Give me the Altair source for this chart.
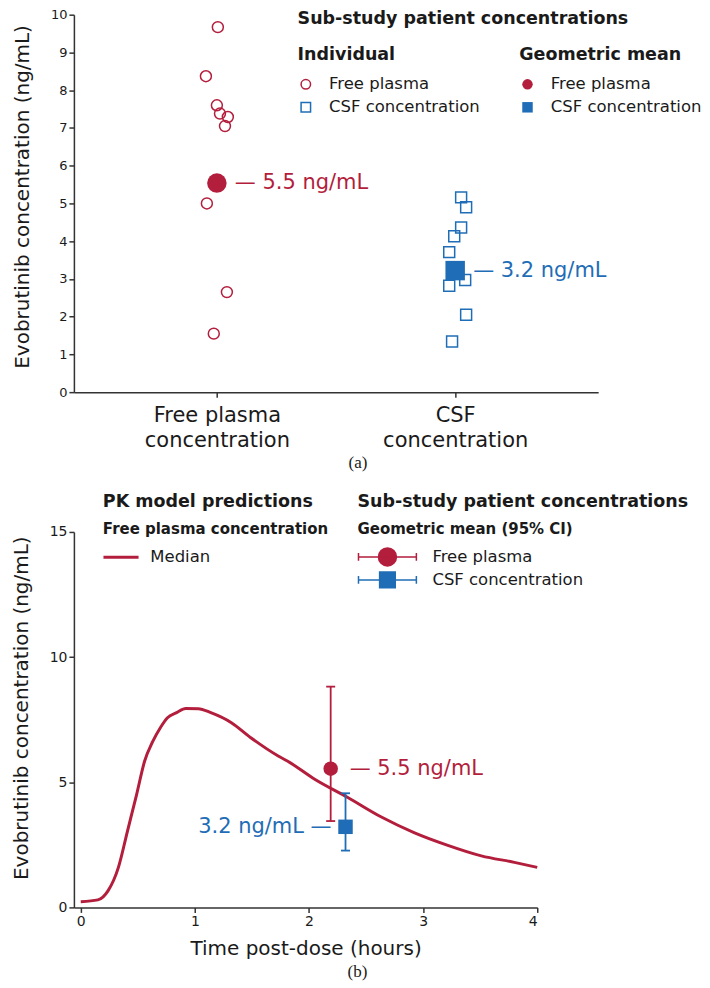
import json
import altair as alt
import pandas as pd

RED = "#B31E3C"
BLUE = "#1F6DB6"
FONT = "DejaVu Sans"
INK = "#1a1a1a"

# ---------------- data: panel (a) ----------------
groups = ["Free plasma", "CSF concentration"]
category_pos = [0.6, 1.6]
category_labels = [["Free plasma", "concentration"], ["CSF", "concentration"]]

plasma_conc = [9.67, 8.37, 7.60, 7.38, 7.29, 7.05, 5.00, 2.65, 1.55]
plasma_jitter = [0.004, -0.046, 0.0, 0.013, 0.046, 0.034, -0.042, 0.042, -0.013]
csf_conc = [5.16, 4.90, 4.36, 4.13, 3.71, 2.97, 2.82, 2.05, 1.34]
csf_jitter = [0.025, 0.046, 0.025, -0.004, -0.025, 0.042, -0.025, 0.046, -0.013]
geo_mean = [5.54, 3.22]

# ---------------- data: panel (b) ----------------
time_h = [0.0, 0.15, 0.24, 0.33, 0.41, 0.49, 0.56, 0.63, 0.70, 0.76, 0.84, 0.92,
          1.03, 1.14, 1.32, 1.49, 1.73, 1.81, 2.05, 2.34, 2.63, 2.92, 3.21, 3.51,
          3.80, 4.0]
median_conc = [0.23, 0.30, 0.67, 1.60, 3.06, 4.52, 5.85, 6.62, 7.20, 7.58, 7.78, 7.95,
               7.94, 7.78, 7.38, 6.78, 6.05, 5.85, 5.12, 4.39, 3.62, 2.99, 2.49, 2.06,
               1.80, 1.60]
mean_time = [2.19, 2.32]
ci_low = [3.45, 2.27]
ci_high = [8.82, 4.56]

heading_a = "Sub-study patient concentrations"
heading_pk = "PK model predictions"

# ---------------- tables ----------------
ind = pd.DataFrame({
    "group": [groups[0]] * len(plasma_conc) + [groups[1]] * len(csf_conc),
    "x": [category_pos[0] + j for j in plasma_jitter] + [category_pos[1] + j for j in csf_jitter],
    "conc": plasma_conc + csf_conc,
})
means_a = pd.DataFrame({
    "group": groups, "x": category_pos, "conc": geo_mean,
    "label": [f"— {v:.1f} ng/mL" for v in geo_mean],
})
curve = pd.DataFrame({"t": time_h, "conc": median_conc, "series": ["Median"] * len(time_h)})
means_b = pd.DataFrame({
    "group": groups, "t": mean_time, "conc": geo_mean, "lo": ci_low, "hi": ci_high,
    "label": [f"— {geo_mean[0]:.1f} ng/mL", f"{geo_mean[1]:.1f} ng/mL —"],
})

color_scale = alt.Scale(domain=groups, range=[RED, BLUE])
shape_scale = alt.Scale(domain=groups, range=["circle", "square"])

# ---------------- panel (a) ----------------
label_expr = (f"datum.value < 1.1 ? {json.dumps(category_labels[0])} : "
              f"{json.dumps(category_labels[1])}")
xa = alt.X("x:Q", scale=alt.Scale(domain=[0, 2.2], nice=False, zero=False),
           axis=alt.Axis(values=category_pos, labelExpr=label_expr, title=None, grid=False,
                         labelFontSize=21, labelLineHeight=25, labelPadding=7))
ya = alt.Y("conc:Q", scale=alt.Scale(domain=[0, 10], nice=False),
           axis=alt.Axis(values=list(range(11)), title="Evobrutinib concentration (ng/mL)",
                         grid=False, labelFontSize=13, titleFontSize=20, titlePadding=18,
                         titleY=182))

leg_common = dict(orient="none", legendY=31, labelLimit=0, titleLimit=0, labelOffset=15,
                  titlePadding=13, rowPadding=6)
leg_ind = alt.Legend(title="Individual", legendX=224, symbolSize=90, symbolStrokeWidth=1.5,
                     **leg_common)
leg_mean = alt.Legend(title="Geometric mean", legendX=446, symbolSize=110, **leg_common)

ind_layer = alt.Chart(ind).mark_point(filled=False, size=120, strokeWidth=1.5, opacity=1).encode(
    x=xa, y=ya,
    color=alt.Color("group:N", scale=color_scale, legend=leg_ind),
    shape=alt.Shape("group:N", scale=shape_scale, legend=leg_ind),
)
mean_layer = alt.Chart(means_a).mark_point(filled=True, size=380, opacity=1).encode(
    x=xa, y=ya,
    color=alt.Color("group:N", scale=color_scale, legend=leg_mean),
    shape=alt.Shape("group:N", scale=shape_scale, legend=leg_mean),
)
ann_a = alt.Chart(means_a).mark_text(align="left", baseline="middle", dx=18, fontSize=21,
                                     font=FONT).encode(
    x=xa, y=ya, text="label:N",
    color=alt.Color("group:N", scale=color_scale, legend=None),
)
head_a = alt.Chart(pd.DataFrame({"t": [heading_a]})).mark_text(
    align="left", baseline="middle", fontWeight="bold", fontSize=17.5, font=FONT, color=INK
).encode(x=alt.value(224), y=alt.value(4), text="t:N")

top = alt.layer(ind_layer, mean_layer, ann_a, head_a).resolve_scale(
    color="independent", shape="independent"
).properties(
    width=525, height=378,
    title=alt.TitleParams("(a)", orient="bottom", anchor="middle", dx=22, offset=5,
                          font="Liberation Serif", fontSize=17, fontWeight="normal", color=INK),
)

# ---------------- panel (b) ----------------
axis_yb = alt.Axis(values=[0, 5, 10, 15], title="Evobrutinib concentration (ng/mL)", grid=False,
                   labelFontSize=14, titleFontSize=20, titlePadding=18, titleY=176)
scale_yb = alt.Scale(domain=[0, 15], nice=False)
xb = alt.X("t:Q", scale=alt.Scale(domain=[-0.06, 4], nice=False, zero=False),
           axis=alt.Axis(values=[0, 1, 2, 3, 4], title="Time post-dose (hours)", grid=False,
                         labelFontSize=14, titleFontSize=20, titlePadding=10, labelPadding=2))

leg_line = alt.Legend(title="Free plasma concentration", orient="none", legendX=29, legendY=-10,
                      symbolType="M-1.7,0L6.11,0", symbolSize=81, symbolStrokeWidth=3,
                      labelOffset=31, titleFontSize=15, titlePadding=12,
                      labelLimit=0, titleLimit=0)
line_layer = alt.Chart(curve).mark_line(strokeWidth=3, interpolate="monotone").encode(
    x=xb, y=alt.Y("conc:Q", scale=scale_yb, axis=axis_yb),
    color=alt.Color("series:N", scale=alt.Scale(domain=["Median"], range=[RED]), legend=leg_line),
)
rule_layer = alt.Chart(means_b).mark_rule(strokeWidth=1.8).encode(
    x=xb, y=alt.Y("lo:Q", scale=scale_yb, axis=axis_yb), y2="hi:Q",
    color=alt.Color("group:N", scale=color_scale, legend=None),
)
cap_layer = alt.Chart(means_b).transform_fold(["lo", "hi"], as_=["which", "val"]).mark_tick(
    orient="horizontal", size=9, thickness=1.8, opacity=1
).encode(
    x=xb, y=alt.Y("val:Q", scale=scale_yb, axis=axis_yb),
    color=alt.Color("group:N", scale=color_scale, legend=None),
)
pt_layer = alt.Chart(means_b).mark_point(filled=True, size=210, opacity=1).encode(
    x=xb, y=alt.Y("conc:Q", scale=scale_yb, axis=axis_yb),
    color=alt.Color("group:N", scale=color_scale, legend=None),
    shape=alt.Shape("group:N", scale=shape_scale, legend=None),
)
ann_b1 = alt.Chart(means_b).transform_filter(alt.datum.group == groups[0]).mark_text(
    align="left", baseline="middle", dx=19, fontSize=21, font=FONT, color=RED
).encode(x=xb, y=alt.Y("conc:Q", scale=scale_yb, axis=axis_yb), text="label:N")
ann_b2 = alt.Chart(means_b).transform_filter(alt.datum.group == groups[1]).mark_text(
    align="right", baseline="middle", dx=-14, fontSize=21, font=FONT, color=BLUE
).encode(x=xb, y=alt.Y("conc:Q", scale=scale_yb, axis=axis_yb), text="label:N")

# legend glyphs: whisker + marker, drawn as custom symbol paths
K = 0.5523
CX = 2.22
circle_part = (f"M{CX+1},0C{CX+1},{K} {CX+K},1 {CX},1C{CX-K},1 {CX-1},{K} {CX-1},0"
               f"C{CX-1},{-K} {CX-K},-1 {CX},-1C{CX+K},-1 {CX+1},{-K} {CX+1},0Z")
whisker = "M-1,-0.44L-1,0.44M-1,0L5.44,0M5.44,-0.44L5.44,0.44"
path_circ = whisker + circle_part
path_sq = whisker + f"M{CX-0.87},-0.87L{CX+0.87},-0.87L{CX+0.87},0.87L{CX-0.87},0.87Z"

leg_ci = alt.Legend(title="Geometric mean (95% CI)", orient="none", legendX=284, legendY=-10,
                    symbolSize=324, symbolStrokeWidth=1.5, labelOffset=55,
                    titleFontSize=15, titlePadding=10, rowPadding=0,
                    labelLimit=0, titleLimit=0)
leg_layer = alt.Chart(means_b).transform_filter("false").mark_point(
    filled=True, opacity=1, strokeWidth=1.5
).encode(
    x=xb, y=alt.Y("conc:Q", scale=scale_yb, axis=axis_yb),
    fill=alt.Fill("group:N", scale=color_scale, legend=leg_ci),
    stroke=alt.Stroke("group:N", scale=color_scale, legend=leg_ci),
    shape=alt.Shape("group:N", scale=alt.Scale(domain=groups, range=[path_circ, path_sq]),
                    legend=leg_ci),
)
head_pk = alt.Chart(pd.DataFrame({"t": [heading_pk]})).mark_text(
    align="left", baseline="middle", fontWeight="bold", fontSize=17.5, font=FONT, color=INK
).encode(x=alt.value(29), y=alt.value(-30), text="t:N")
head_sub = alt.Chart(pd.DataFrame({"t": [heading_a]})).mark_text(
    align="left", baseline="middle", fontWeight="bold", fontSize=17.5, font=FONT, color=INK
).encode(x=alt.value(284), y=alt.value(-30), text="t:N")

bottom = alt.layer(line_layer, rule_layer, cap_layer, pt_layer, ann_b1, ann_b2, leg_layer,
                   head_pk, head_sub).resolve_scale(
    color="independent", shape="independent", fill="independent", stroke="independent"
).properties(
    width=464, height=376,
    title=alt.TitleParams("(b)", orient="bottom", anchor="middle", dx=52, offset=6,
                          font="Liberation Serif", fontSize=17, fontWeight="normal", color=INK),
)

chart = alt.vconcat(top, bottom, spacing=22).properties(
    padding={"left": 3, "top": 0, "right": 0, "bottom": 0}
).configure(font=FONT).configure_view(stroke=None).configure_axis(
    domainColor="#333", tickColor="#333", domainWidth=1.5, tickWidth=1.5, tickSize=5,
    labelColor=INK, titleColor=INK, labelFont=FONT, titleFont=FONT, titleFontWeight="normal",
).configure_legend(
    labelFont=FONT, titleFont=FONT, labelFontSize=16.5, titleFontSize=17.5,
    titleFontWeight="bold", labelColor=INK, titleColor=INK,
)

chart.save("out.html", embed_options={"renderer": "svg", "actions": False})
